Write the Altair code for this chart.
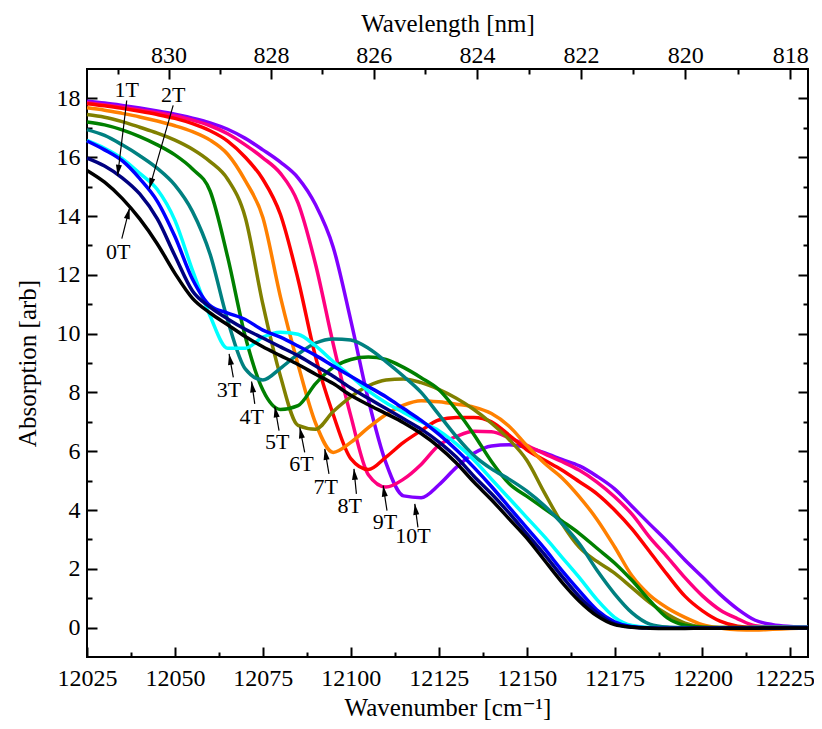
import math
import altair as alt
import pandas as pd

# ---------------- data ----------------
wavenumber = list(range(12025, 12231, 5))

abs_0T = [15.55, 15.15, 14.6, 13.9, 13.05, 12.05, 11.2, 10.7, 10.3, 9.9,
          9.55, 9.25, 8.95, 8.62, 8.3, 7.9, 7.58, 7.28, 6.97, 6.6,
          6.15, 5.6, 4.95, 4.35, 3.7, 3.05, 2.3, 1.55, 0.9, 0.4,
          0.1, 0.01, -0.02, -0.03, -0.03, -0.02, -0.02, -0.02, -0.02, -0.01,
          -0.01, -0.01]
abs_1T = [15.97, 15.7, 15.3, 14.75, 13.9, 12.65, 11.45, 10.9, 10.5, 10.15,
          9.85, 9.55, 9.25, 8.9, 8.55, 8.15, 7.8, 7.45, 7.1, 6.75,
          6.32, 5.8, 5.15, 4.55, 3.9, 3.2, 2.5, 1.75, 1.05, 0.5,
          0.13, 0.02, -0.01, -0.02, -0.02, -0.02, -0.02, -0.01, -0.01, -0.01,
          -0.01, -0.01]
abs_2T = [16.55, 16.25, 15.88, 15.27, 14.5, 13.3, 11.85, 10.95, 10.7, 10.48,
          10.12, 9.88, 9.58, 9.26, 8.9, 8.55, 8.2, 7.85, 7.45, 7.05,
          6.58, 6.05, 5.45, 4.8, 4.1, 3.4, 2.7, 1.95, 1.25, 0.6,
          0.2, 0.03, -0.01, -0.02, -0.02, -0.01, -0.01, -0.01, -0.01, -0.01,
          0.0, 0.0]
abs_3T = [16.57, 16.3, 15.95, 15.45, 14.9, 13.85, 12.15, 10.6, 9.5, 9.5,
          9.88, 10.05, 9.98, 9.58, 9.05, 8.55, 8.05, 7.65, 7.32, 7.0,
          6.7, 6.25, 5.7, 5.05, 4.4, 3.75, 3.1, 2.4, 1.7, 0.95,
          0.35, 0.07, 0.0, -0.01, -0.01, -0.01, -0.01, -0.01, 0.0, 0.0,
          0.0, 0.0]
abs_4T = [16.94, 16.74, 16.42, 16.05, 15.62, 15.05, 14.15, 12.7, 10.45, 8.8,
          8.42, 8.82, 9.3, 9.68, 9.82, 9.78, 9.5, 9.05, 8.55, 8.0,
          7.25, 6.5, 5.85, 5.4, 5.05, 4.65, 4.15, 3.55, 2.85, 1.95,
          1.15, 0.5, 0.12, 0.02, 0.0, -0.01, -0.01, -0.01, 0.0, 0.0,
          0.0, 0.0]
abs_5T = [17.2, 17.1, 16.93, 16.7, 16.42, 16.08, 15.6, 14.85, 12.6, 9.9,
          8.08, 7.42, 7.55, 8.3, 8.85, 9.12, 9.2, 9.12, 8.85, 8.5,
          8.1, 7.4, 6.57, 5.65, 4.9, 4.47, 4.05, 3.63, 3.2, 2.7,
          2.2, 1.6, 0.92, 0.33, 0.08, 0.01, 0.0, 0.0, 0.0, 0.0,
          0.0, 0.0]
abs_6T = [17.45, 17.36, 17.21, 17.02, 16.82, 16.58, 16.27, 15.85, 15.25, 13.95,
          11.0, 8.55, 6.88, 6.75, 7.35, 7.85, 8.22, 8.42, 8.46, 8.33,
          8.1, 7.8, 7.42, 6.95, 6.4, 5.7, 4.6, 3.55, 2.73, 2.25,
          1.85, 1.35, 0.85, 0.45, 0.15, 0.02, 0.0, 0.0, 0.0, 0.0,
          0.0, 0.0]
abs_7T = [17.68, 17.6, 17.49, 17.37, 17.23, 17.07, 16.87, 16.58, 16.1, 15.2,
          13.95, 11.25, 8.95, 6.95, 5.96, 6.3, 6.8, 7.25, 7.57, 7.72,
          7.68, 7.6, 7.5, 7.28, 6.85, 6.2, 5.6, 5.1, 4.45, 3.68,
          2.75, 1.75, 1.1, 0.67, 0.35, 0.1, -0.01, -0.07, -0.08, -0.06,
          -0.03, -0.01]
abs_8T = [17.82, 17.75, 17.66, 17.56, 17.45, 17.32, 17.14, 16.9, 16.55, 16.0,
          15.25, 14.05, 11.85, 9.2, 7.25, 5.75, 5.38, 5.8, 6.3, 6.7,
          7.06, 7.15, 7.15, 7.0, 6.55, 6.05, 5.7, 5.36, 4.96, 4.55,
          4.0, 3.35, 2.58, 1.8, 1.07, 0.57, 0.22, 0.05, 0.0, 0.0,
          0.0, 0.0]
abs_9T = [17.85, 17.78, 17.7, 17.61, 17.51, 17.4, 17.26, 17.07, 16.8, 16.42,
          15.98, 15.45, 14.45, 12.35, 9.65, 7.2, 5.2, 4.78, 5.05, 5.55,
          6.2, 6.5, 6.68, 6.66, 6.46, 6.2, 5.92, 5.65, 5.35, 4.95,
          4.45, 3.85, 3.07, 2.4, 1.7, 1.08, 0.6, 0.3, 0.06, 0.01,
          0.0, 0.0]
abs_10T = [17.9, 17.84, 17.76, 17.67, 17.57, 17.46, 17.33, 17.17, 16.95, 16.64,
           16.25, 15.83, 15.3, 14.38, 12.94, 10.45, 7.75, 5.6, 4.48, 4.42,
           4.85, 5.45, 5.93, 6.18, 6.22, 6.13, 5.95, 5.72, 5.5, 5.15,
           4.72, 4.12, 3.52, 2.93, 2.3, 1.72, 1.13, 0.63, 0.25, 0.1,
           0.04, 0.01]

fields = ["0T", "1T", "2T", "3T", "4T", "5T", "6T", "7T", "8T", "9T", "10T"]
colors = ["#000000", "#000080", "#0000FF", "#00FFFF", "#008080", "#008000",
          "#808000", "#FF8000", "#FF0000", "#FF0080", "#8000FF"]
series = [abs_0T, abs_1T, abs_2T, abs_3T, abs_4T, abs_5T,
          abs_6T, abs_7T, abs_8T, abs_9T, abs_10T]

# annotation labels and arrows
label_text = fields
label_wn = [12033.9, 12036.3, 12049.5, 12065.4, 12071.8, 12079.1, 12086.0, 12092.9, 12099.7, 12109.7, 12117.7]
label_abs = [12.77, 18.27, 18.1, 8.09, 7.18, 6.3, 5.57, 4.77, 4.15, 3.58, 3.13]
tail_wn = [12034.9, 12036.3, 12049.5, 12066.6, 12072.7, 12079.6, 12086.9, 12093.8, 12101.6, 12110.3, 12119.1]
tail_abs = [13.23, 17.93, 17.76, 8.51, 7.61, 6.7, 5.96, 5.23, 4.55, 3.98, 3.41]
tip_wn = [12037.1, 12033.7, 12042.7, 12065.4, 12071.8, 12078.4, 12085.5, 12092.6, 12100.9, 12109.2, 12118.2]
tip_abs = [14.27, 15.37, 14.92, 9.31, 8.37, 7.52, 6.81, 6.08, 5.4, 4.83, 4.21]

# axis tick values
wn_ticks = [12025, 12050, 12075, 12100, 12125, 12150, 12175, 12200, 12225]
wn_minor = [12037.5, 12062.5, 12087.5, 12112.5, 12137.5, 12162.5, 12187.5, 12212.5]
nm_ticks = [830, 828, 826, 824, 822, 820, 818]
nm_minor = [831, 829, 827, 825, 823, 821, 819]
abs_ticks = [0, 2, 4, 6, 8, 10, 12, 14, 16, 18]
abs_minor = [1, 3, 5, 7, 9, 11, 13, 15, 17]

# ---------------- build tables ----------------
for s in series:
    assert len(s) == len(wavenumber)

rows = []
for k in range(len(fields) - 1, -1, -1):  # 10T first, 0T drawn last (on top)
    for w, a in zip(wavenumber, series[k]):
        rows.append({"wn": w, "absorb": a, "field": fields[k]})
df = pd.DataFrame(rows)

X0, X1 = 12025, 12230
Y0, Y1 = -1, 19
W, H = 721, 588
kx = W / (X1 - X0)
ky = H / (Y1 - Y0)

angles = []
for i in range(len(label_text)):
    dx = (tip_wn[i] - tail_wn[i]) * kx
    dy = -(tip_abs[i] - tail_abs[i]) * ky
    angles.append(math.degrees(math.atan2(dx, -dy)) % 360)

ann = pd.DataFrame({
    "label": label_text, "lx": label_wn, "ly": label_abs,
    "tx": tail_wn, "ty": tail_abs, "px": tip_wn, "py": tip_abs, "angle": angles,
})

FONT = "Liberation Serif, Times New Roman, Times, DejaVu Serif, serif"
xs = alt.Scale(domain=[X0, X1], nice=False, zero=False)
ys = alt.Scale(domain=[Y0, Y1], nice=False, zero=False)


def make_axis(orient, values, tick, labels=False, pad=0, title=None, tpad=0, expr=None,
              offset=None):
    kw = dict(orient=orient, values=values, tickSize={"expr": str(-tick)}, tickWidth=2,
              tickColor="black", domain=False, grid=False, labels=labels)
    if labels:
        kw.update(labelFont=FONT, labelFontSize=24, labelColor="black", labelPadding=pad,
                  labelOverlap=False, labelFlush=False)
        if expr:
            kw["labelExpr"] = expr
        else:
            kw["format"] = "d"
        if offset is not None:
            kw["labelOffset"] = offset
    if title:
        kw.update(title=title, titleFont=FONT, titleFontSize=25, titleFontWeight="normal",
                  titleColor="black", titlePadding=tpad)
    else:
        kw["title"] = None
    return alt.Axis(**kw)


# keep the last bottom label inside the page edge
last_label_shift = {"condition": {"test": "datum.value >= 12220", "value": -6}, "value": 0}

ax_bottom = make_axis("bottom", wn_ticks, 10, labels=True, pad=19,
                      title="Wavenumber [cm\u207b\u00b9]", tpad=5, offset=last_label_shift)
ax_bottom_minor = make_axis("bottom", wn_minor, 5)
ax_top = make_axis("top", [1e7 / v for v in nm_ticks], 10, labels=True, pad=12,
                   title="Wavelength [nm]", tpad=7,
                   expr="format(10000000/datum.value, '.0f')")
ax_top_minor = make_axis("top", [1e7 / v for v in nm_minor], 5)
ax_left = make_axis("left", abs_ticks, 10, labels=True, pad=17,
                    title="Absorption [arb]", tpad=16)
ax_left_minor = make_axis("left", abs_minor, 5)
ax_right = make_axis("right", abs_ticks, 10)
ax_right_minor = make_axis("right", abs_minor, 5)

lines = alt.Chart(df).mark_line(strokeWidth=3.5, interpolate="monotone").encode(
    x=alt.X("wn:Q", scale=xs, axis=ax_bottom),
    y=alt.Y("absorb:Q", scale=ys, axis=ax_left),
    color=alt.Color("field:N", scale=alt.Scale(domain=fields, range=colors), legend=None),
)


def ghost(xax, yax):
    return alt.Chart(df).mark_point(opacity=0, size=1).encode(
        x=alt.X("wn:Q", scale=xs, axis=xax),
        y=alt.Y("absorb:Q", scale=ys, axis=yax),
    )


g1 = ghost(ax_bottom_minor, ax_left_minor)
g2 = ghost(ax_top, ax_right)
g3 = ghost(ax_top_minor, ax_right_minor)

shafts = alt.Chart(ann).mark_rule(strokeWidth=1.2, color="black").encode(
    x=alt.X("tx:Q", scale=xs, axis=None),
    y=alt.Y("ty:Q", scale=ys, axis=None),
    x2="px:Q", y2="py:Q",
)
heads = alt.Chart(ann).mark_point(
    shape="M0,0L-0.55,2L0.55,2Z", filled=True, color="black", size=121, opacity=1, strokeWidth=0
).encode(
    x=alt.X("px:Q", scale=xs, axis=None),
    y=alt.Y("py:Q", scale=ys, axis=None),
    angle=alt.Angle("angle:Q", scale=None),
)
texts = alt.Chart(ann).mark_text(font=FONT, fontSize=22, color="black",
                                 align="center", baseline="middle").encode(
    x=alt.X("lx:Q", scale=xs, axis=None),
    y=alt.Y("ly:Q", scale=ys, axis=None),
    text="label:N",
)

chart = alt.layer(lines, g1, g2, g3, shafts, heads, texts).resolve_axis(
    x="independent", y="independent"
).properties(
    width=W, height=H,
    autosize=alt.AutoSizeParams(type="none"),
    padding={"left": 79, "top": 61, "right": 6, "bottom": 64},
    background="white",
).configure_view(stroke="black", strokeWidth=2)

chart.save("out.html", embed_options={"renderer": "svg", "actions": False})
